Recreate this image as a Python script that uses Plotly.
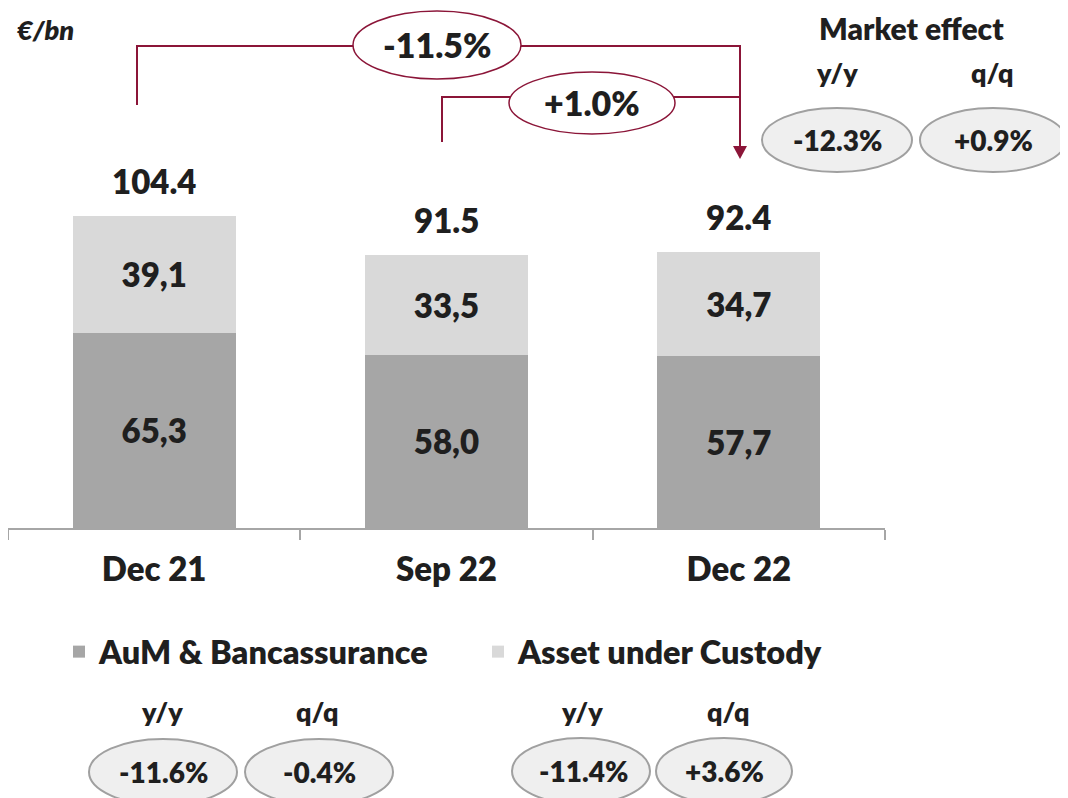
import plotly.graph_objects as go

# ---------------- data ----------------
categories = ["Dec 21", "Sep 22", "Dec 22"]
aum_banc = [65.3, 58.0, 57.7]
custody = [39.1, 33.5, 34.7]
totals = [104.4, 91.5, 92.4]
series_names = ["AuM & Bancassurance", "Asset under Custody"]
change_labels = ["-11.5%", "+1.0%"]
market_effect = ["-12.3%", "+0.9%"]
aum_effect = ["-11.6%", "-0.4%"]
custody_effect = ["-11.4%", "+3.6%"]
period_labels = ["y/y", "q/q"]

# ---------------- style ----------------
OFF = 8                      # page body margin
W, H = 1068 - OFF, 798 - OFF
PL, PR, PT, PB = 8, 885, 20, 528   # plot area in page pixels
FONT = "Lato"
WT = 800
TXT = "#1f1f1f"
DARK = "#a6a6a6"
LIGHT = "#d9d9d9"
CRIMSON = "#8b1538"
BUB_FILL = "#efefef"
BUB_LINE = "#a0a0a0"


def fx(x):
    return (x - PL) / (PR - PL)


def fy(y):
    return (PB - y) / (PB - PT)


def fmt_comma(v):
    return f"{v:.1f}".replace(".", ",")


fig = go.Figure()
for vals, name, col in [(aum_banc, series_names[0], DARK), (custody, series_names[1], LIGHT)]:
    fig.add_trace(go.Bar(
        x=categories, y=vals, name=name,
        marker=dict(color=col, line=dict(width=0)),
        text=[fmt_comma(v) for v in vals], textposition="inside",
        insidetextanchor="middle", textangle=0,
        textfont=dict(family=FONT, size=33, color=TXT, weight=WT),
        width=0.557, hoverinfo="skip",
    ))

annotations = []
for c, t in zip(categories, totals):
    annotations.append(dict(
        x=c, y=t, xref="x", yref="y", text=f"{t:.1f}", showarrow=False,
        yanchor="bottom", yshift=13,
        font=dict(family=FONT, size=33, color=TXT, weight=WT)))


def ptext(x, y, text, size, yanchor="middle", **kw):
    annotations.append(dict(
        x=fx(x), y=fy(y), xref="paper", yref="paper", text=text,
        showarrow=False, xanchor=kw.pop("xanchor", "center"), yanchor=yanchor,
        font=dict(family=FONT, size=size, color=TXT, weight=WT, **kw)))


shapes = []


def ellipse(cx, cy, rx, ry, fill, line, lw):
    shapes.append(dict(
        type="circle", xref="paper", yref="paper",
        x0=fx(cx - rx), x1=fx(cx + rx), y0=fy(cy + ry), y1=fy(cy - ry),
        fillcolor=fill, line=dict(color=line, width=lw), layer="above"))


def path(points, close=False, fill=None, lw=2):
    d = "M " + " L ".join(f"{fx(x)},{fy(y)}" for x, y in points)
    if close:
        d += " Z"
    shapes.append(dict(
        type="path", xref="paper", yref="paper", path=d,
        line=dict(color=CRIMSON, width=lw if not close else 0),
        fillcolor=fill if fill else "rgba(0,0,0,0)", layer="above"))


ptext(15, 30, "€/bn", 27, style="italic", xanchor="left")

path([(137, 105), (137, 46), (740, 46), (740, 148)])
path([(442, 142), (442, 97), (740, 97)])
path([(733, 146), (747, 146), (740, 159)], close=True, fill=CRIMSON)
ellipse(437, 45, 84, 34, "white", CRIMSON, 1.5)
ellipse(592, 103, 83, 31, "white", CRIMSON, 1.5)
ptext(437, 44, change_labels[0], 34)
ptext(592, 102, change_labels[1], 34)

ptext(911, 8, "Market effect", 30, yanchor="top")
ptext(837, 72, period_labels[0], 27)
ptext(992, 72, period_labels[1], 27)
ellipse(837, 140, 75, 32, BUB_FILL, BUB_LINE, 2)
ellipse(993, 140, 73, 32, BUB_FILL, BUB_LINE, 2)
ptext(837, 140, market_effect[0], 28)
ptext(993, 140, market_effect[1], 28)

ptext(162, 711, period_labels[0], 27)
ptext(317, 711, period_labels[1], 27)
ellipse(163, 772, 74, 33, BUB_FILL, BUB_LINE, 2)
ellipse(319, 772, 74, 33, BUB_FILL, BUB_LINE, 2)
ptext(163, 772, aum_effect[0], 28)
ptext(319, 772, aum_effect[1], 28)

ptext(582, 711, period_labels[0], 27)
ptext(728, 711, period_labels[1], 27)
ellipse(581, 771, 69, 33, BUB_FILL, BUB_LINE, 2)
ellipse(724, 771, 68, 33, BUB_FILL, BUB_LINE, 2)
ptext(583, 771, custody_effect[0], 28)
ptext(724, 771, custody_effect[1], 28)

fig.update_layout(
    width=W, height=H,
    margin=dict(l=PL - OFF, r=W - (PR - OFF), t=PT - OFF, b=H - (PB - OFF), pad=0),
    paper_bgcolor="white", plot_bgcolor="white",
    barmode="stack",
    showlegend=True,
    legend=dict(orientation="h", x=fx(59), y=fy(624), xanchor="left", yanchor="top",
                font=dict(family=FONT, size=32.5, color=TXT, weight=WT),
                entrywidth=374, entrywidthmode="pixels", traceorder="normal",
                bgcolor="rgba(0,0,0,0)"),
    xaxis=dict(range=[-0.5, 2.5], showline=True, linecolor=DARK, linewidth=1.5,
               ticks="outside", tickson="boundaries", ticklen=10, tickcolor=DARK,
               tickwidth=1.5, showgrid=False, zeroline=False, ticklabelstandoff=12,
               tickfont=dict(family=FONT, size=33, color=TXT, weight=WT)),
    yaxis=dict(range=[0, 170], visible=False, showgrid=False, zeroline=False),
    shapes=shapes, annotations=annotations,
)

fig.write_html("out.html")
